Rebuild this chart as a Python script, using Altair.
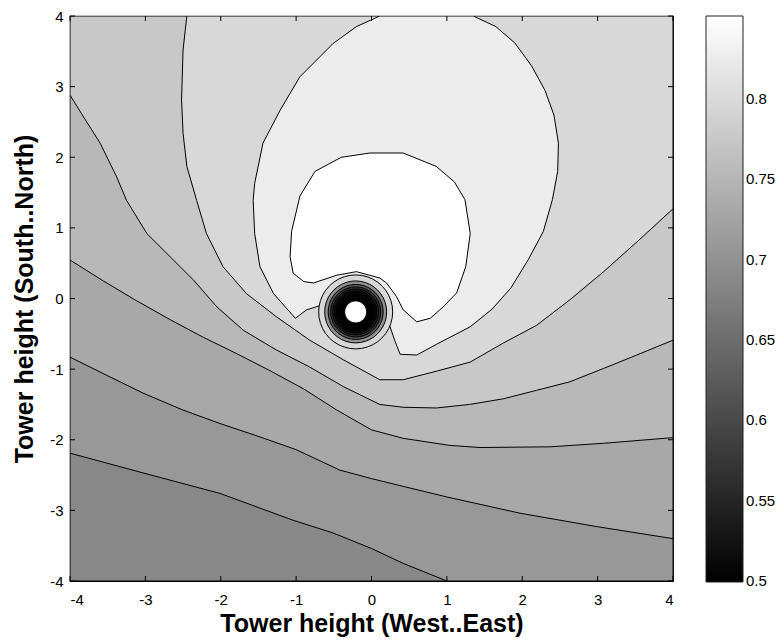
import altair as alt
import numpy as np
import pandas as pd

# ---------------- values ----------------
X_TICKS = [-4, -3, -2, -1, 0, 1, 2, 3, 4]
Y_TICKS = [-4, -3, -2, -1, 0, 1, 2, 3, 4]
CBAR_TICKS = [0.5, 0.55, 0.6, 0.65, 0.7, 0.75, 0.8]
CMIN, CMAX = 0.5, 0.8515

# value of each filled band, outermost (bottom-left) to innermost (white)
BAND_LEVELS = [0.688, 0.710, 0.732, 0.754, 0.776, 0.798, 0.825, 0.8515]

# contour lines (x, y)
L1_x = [-4.0, -3.03, -2.01, -1.04, -0.51, 0.0, 0.42, 1.0]
L1_y = [-2.19, -2.47, -2.76, -3.14, -3.32, -3.54, -3.75, -4.0]

L2_x = [-4.0, -3.47, -3.03, -2.50, -2.01, -1.48, -1.0, -0.42, 0.0, 0.42, 1.0, 1.97, 2.99, 4.0]
L2_y = [-0.83, -1.11, -1.34, -1.58, -1.77, -1.96, -2.14, -2.43, -2.55, -2.66, -2.81, -3.04, -3.23, -3.40]

L3_x = [-4.0, -3.56, -3.12, -2.67, -2.23, -1.79, -1.35, -0.90, -0.46, 0.0, 0.42, 1.04, 1.44, 2.37, 3.08, 4.0]
L3_y = [0.545, 0.25, -0.03, -0.30, -0.55, -0.78, -1.02, -1.28, -1.58, -1.86, -1.98, -2.08, -2.11, -2.10, -2.05, -1.97]

L4_x = [-4.0, -3.82, -3.60, -3.38, -3.25, -2.98, -2.67, -2.36, -2.05, -1.70, -1.26, -0.82, -0.37, 0.11, 0.42, 0.86, 1.30, 1.75, 2.19, 2.63, 3.08, 3.52, 4.0]
L4_y = [2.88, 2.57, 2.20, 1.72, 1.39, 0.92, 0.59, 0.26, -0.12, -0.45, -0.73, -0.97, -1.25, -1.50, -1.54, -1.55, -1.50, -1.42, -1.30, -1.18, -0.99, -0.80, -0.59]

L5_x = [-2.45, -2.50, -2.52, -2.50, -2.45, -2.32, -2.19, -1.97, -1.66, -1.26, -0.82, -0.37, 0.11, 0.42, 0.86, 1.31, 1.75, 2.19, 2.63, 3.08, 3.52, 4.0]
L5_y = [4.0, 3.52, 2.81, 2.34, 1.87, 1.39, 0.92, 0.45, 0.07, -0.26, -0.59, -0.87, -1.15, -1.15, -1.03, -0.90, -0.63, -0.38, -0.02, 0.38, 0.80, 1.27]

L6_x = [0.11, -0.20, -0.51, -0.95, -1.21, -1.44, -1.55, -1.57, -1.55, -1.48, -1.30, -1.01, -0.86, -0.68,
        0.24, 0.31, 0.38, 0.60, 0.86, 1.31, 1.60, 1.85, 2.08, 2.28, 2.40, 2.47, 2.48, 2.42, 2.30, 2.12, 1.90, 1.65, 1.35]
L6_y = [4.0, 3.85, 3.61, 3.14, 2.67, 2.20, 1.63, 1.39, 0.92, 0.45, 0.07, -0.28, -0.16, -0.10,
        -0.38, -0.60, -0.79, -0.80, -0.65, -0.40, -0.15, 0.15, 0.55, 0.95, 1.40, 1.80, 2.20, 2.60, 2.95, 3.30, 3.62, 3.85, 4.0]

L7_x = [-0.02, -0.40, -0.75, -0.95, -1.06, -1.08, -1.04, -0.90, -0.77, -0.46, -0.20, 0.11, 0.20, 0.33, 0.42, 0.60, 0.78,
        0.95, 1.13, 1.25, 1.31, 1.24, 1.10, 0.86, 0.42]
L7_y = [2.06, 2.00, 1.80, 1.45, 0.95, 0.59, 0.36, 0.24, 0.22, 0.33, 0.38, 0.29, 0.22, 0.03, -0.16, -0.33, -0.28,
        -0.12, 0.08, 0.45, 0.92, 1.40, 1.65, 1.87, 2.06]

# the dip (dark rings) near the centre
DEP_CX, DEP_CY = -0.21, -0.19
DEP_ASPECT = 1.067  # y radius / x radius in data units (round on screen)
DEP_RADII = [0.491, 0.411, 0.365, 0.332, 0.305, 0.279, 0.259, 0.239, 0.219, 0.202, 0.186, 0.172, 0.159]
DEP_LEVELS = [0.798, 0.700, 0.620, 0.570, 0.540, 0.520, 0.510, 0.505, 0.502, 0.500, 0.500, 0.500, 0.500]
DEP_SPOT_R = 0.146

# ---------------- build polygons ----------------
rows = []


def add_poly(name, xs, ys, v):
    xs = list(xs) + [xs[0]]
    ys = list(ys) + [ys[0]]
    for i, (a, b) in enumerate(zip(xs, ys)):
        rows.append({"poly": name, "i": i, "x": a, "y": b, "v": v})


add_poly("p00", [-4, 4, 4, -4], [-4, -4, 4, 4], BAND_LEVELS[0])
add_poly("p01", L1_x + [4, 4, -4], L1_y + [-4, 4, 4], BAND_LEVELS[1])
add_poly("p02", L2_x + [4, -4], L2_y + [4, 4], BAND_LEVELS[2])
add_poly("p03", L3_x + [4, -4], L3_y + [4, 4], BAND_LEVELS[3])
add_poly("p04", L4_x + [4, -4], L4_y + [4, 4], BAND_LEVELS[4])
add_poly("p05", L5_x + [4], L5_y + [4], BAND_LEVELS[5])
add_poly("p06", L6_x, L6_y, BAND_LEVELS[6])
add_poly("p07", L7_x, L7_y, BAND_LEVELS[7])

ang = np.linspace(0, 2 * np.pi, 41)[:-1]
for k, (r, lv) in enumerate(zip(DEP_RADII + [DEP_SPOT_R], DEP_LEVELS + [CMAX])):
    add_poly("r%02d" % k, DEP_CX + r * np.cos(ang), DEP_CY + r * DEP_ASPECT * np.sin(ang), lv)

poly_df = pd.DataFrame(rows)

W, H = 603, 565
CB_OFF, CB_W = 33, 37
FONT = "Liberation Sans"
LBL = "'' + datum.value"

xs = alt.Scale(domain=[-4, 4], nice=False, zero=False)
ys = alt.Scale(domain=[-4, 4], nice=False, zero=False)
cs = alt.Scale(domain=[CMIN, CMAX], nice=False, zero=False)

x_axis = alt.Axis(values=X_TICKS, labelExpr=LBL, grid=False, ticks=False, tickSize=0, domain=False,
                  labelFontSize=15, labelFont=FONT, labelColor="black", labelPadding=11,
                  title="Tower height (West..East)", titleFont=FONT, titleFontSize=25,
                  titleFontWeight="bold", titleColor="black", titlePadding=4)
y_axis = alt.Axis(values=Y_TICKS, labelExpr=LBL, grid=False, ticks=False, tickSize=0, domain=False,
                  labelFontSize=15, labelFont=FONT, labelColor="black", labelPadding=7,
                  title="Tower height (South..North)", titleFont=FONT, titleFontSize=25,
                  titleFontWeight="bold", titleColor="black", titlePadding=12)

fill_scale = alt.Scale(domain=[CMIN, CMAX], range=["#000000", "#ffffff"], interpolate="rgb")

polys = alt.Chart(poly_df).mark_line(stroke="black", strokeWidth=1, clip=True, strokeJoin="round").encode(
    x=alt.X("x:Q", scale=xs, axis=x_axis),
    y=alt.Y("y:Q", scale=ys, axis=y_axis),
    order=alt.Order("i:Q"),
    detail=alt.Detail("poly:N"),
    fill=alt.Fill("v:Q", scale=fill_scale,
                  legend=alt.Legend(title=None, orient="right", offset=CB_OFF, padding=0,
                                    direction="vertical", gradientLength=H + 1, gradientThickness=CB_W,
                                    gradientStrokeColor="#222222", gradientStrokeWidth=1,
                                    labelOpacity=0, labelFontSize=1)),
)

tx = pd.DataFrame({"x": X_TICKS})
ty = pd.DataFrame({"y": Y_TICKS})
tc = pd.DataFrame({"c": CBAR_TICKS})
TL = 5
tick_b = alt.Chart(tx).mark_rule(color="black").encode(x=alt.X("x:Q", scale=xs, axis=x_axis), y=alt.value(H), y2=alt.value(H - TL))
tick_t = alt.Chart(tx).mark_rule(color="black").encode(x=alt.X("x:Q", scale=xs, axis=x_axis), y=alt.value(0), y2=alt.value(TL))
tick_l = alt.Chart(ty).mark_rule(color="black").encode(y=alt.Y("y:Q", scale=ys, axis=None), x=alt.value(0), x2=alt.value(TL))
tick_r = alt.Chart(ty).mark_rule(color="black").encode(y=alt.Y("y:Q", scale=ys, axis=None), x=alt.value(W), x2=alt.value(W - TL))
ctick_l = alt.Chart(tc).mark_rule(color="#222222").encode(
    y=alt.Y("c:Q", scale=cs, axis=None), x=alt.value(W + CB_OFF), x2=alt.value(W + CB_OFF + 4))
ctick_r = alt.Chart(tc).mark_rule(color="#222222").encode(
    y=alt.Y("c:Q", scale=cs, axis=None), x=alt.value(W + CB_OFF + CB_W - 4), x2=alt.value(W + CB_OFF + CB_W))
ctext = alt.Chart(tc).mark_text(align="left", baseline="middle", font=FONT, fontSize=15, color="black").encode(
    y=alt.Y("c:Q", scale=cs, axis=None), x=alt.value(W + CB_OFF + CB_W + 3),
    text=alt.Text("c:Q", format=".2~f"))

chart = alt.layer(polys, tick_b, tick_t, tick_l, tick_r, ctick_l, ctick_r, ctext).resolve_scale(
    y="independent"
).properties(
    width=W, height=H,
    autosize=alt.AutoSizeParams(type="none"),
    padding={"left": 70, "top": 16, "right": 111, "bottom": 60},
    background="white",
).configure_view(stroke="black", strokeWidth=1.2)

chart.save("out.html", embed_options={"renderer": "svg", "actions": False})
